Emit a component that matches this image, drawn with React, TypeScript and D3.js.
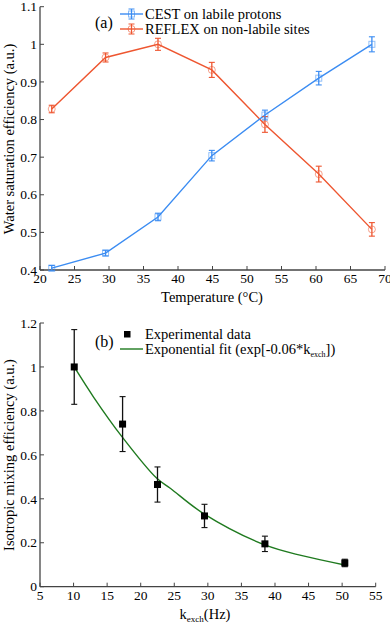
import React from 'react';
import * as d3 from 'd3';

// panel (a): temperature series
const temps = [21.7, 29.5, 37.1, 44.9, 52.6, 60.4, 68.1];
const cestVals = [0.405, 0.445, 0.541, 0.704, 0.812, 0.91, 1.0];
const cestErr = [0.007, 0.0075, 0.01, 0.014, 0.013, 0.018, 0.02];
const reflexVals = [0.828, 0.965, 1.0, 0.932, 0.787, 0.655, 0.508];
const reflexErr = [0.01, 0.012, 0.016, 0.02, 0.021, 0.021, 0.018];
const tempTicks = [20, 25, 30, 35, 40, 45, 50, 55, 60, 65, 70];
const effTicks = [0.4, 0.5, 0.6, 0.7, 0.8, 0.9, 1.0, 1.1];

// panel (b): exchange rate series
const kexch = [10.1, 17.3, 22.5, 29.5, 38.5, 50.4];
const mixVals = [1.0, 0.74, 0.465, 0.322, 0.195, 0.108];
const mixErr = [0.17, 0.125, 0.08, 0.053, 0.035, 0.017];
// fit curve
const fitK = [10.1, 13, 17.2, 22.4, 24.4, 29.3, 38.5, 44.2, 50.4];
const fitVals = [1.0, 0.862, 0.683, 0.493, 0.448, 0.334, 0.19, 0.14, 0.099];
const kTicks = [5, 10, 15, 20, 25, 30, 35, 40, 45, 50, 55];
const mixTicks = [0, 0.2, 0.4, 0.6, 0.8, 1.0, 1.2];

const BLUE = '#3b8cf2';
const RED = '#ee5630';
const GREEN = '#1f7a1f';
const AXIS = '#444';
const FONT = 'Liberation Serif';

const fmt = (d: number) => String(+d.toFixed(1));

const Axes = ({ x, y, xTicks, yTicks }) => {
  const [x0, x1] = x.range();
  const [y0, y1] = y.range();
  return (
    <g>
      <line x1={x0} x2={x0} y1={y0} y2={y1} stroke={AXIS} strokeWidth={1.3} />
      <line x1={x0} x2={x1} y1={y0} y2={y0} stroke={AXIS} strokeWidth={1.3} />
      {xTicks.map((t) => (
        <g key={'x' + t}>
          <line x1={x(t)} x2={x(t)} y1={y0} y2={y0 - 4} stroke={AXIS} />
          <text x={x(t)} y={y0 + 13} textAnchor="middle" fontFamily={FONT} fontSize={13.5}>{fmt(t)}</text>
        </g>
      ))}
      {yTicks.map((t) => (
        <g key={'y' + t}>
          <line x1={x0} x2={x0 + 4} y1={y(t)} y2={y(t)} stroke={AXIS} />
          <text x={x0 - 3} y={y(t)} dy="0.35em" textAnchor="end" fontFamily={FONT} fontSize={13.5}>{fmt(t)}</text>
        </g>
      ))}
    </g>
  );
};

const ErrBars = ({ xs, ys, es, x, y, color, cap }) => (
  <g>
    {xs.map((xv, i) => {
      const cx = x(xv);
      const lo = y(ys[i] - es[i]);
      const hi = y(ys[i] + es[i]);
      return (
        <g key={i}>
          <line x1={cx} x2={cx} y1={lo} y2={hi} stroke={color} strokeWidth={1.3} />
          <line x1={cx - cap} x2={cx + cap} y1={lo} y2={lo} stroke={color} strokeWidth={1.1} />
          <line x1={cx - cap} x2={cx + cap} y1={hi} y2={hi} stroke={color} strokeWidth={1.1} />
        </g>
      );
    })}
  </g>
);

const App = () => {
  // panel (a)
  const xa = d3.scaleLinear().domain([20, 70]).range([40, 385]);
  const ya = d3.scaleLinear().domain([0.4, 1.1]).range([270, 6.7]);
  const lineA = d3.line<number>().x((_, i) => xa(temps[i])).y((d) => ya(d));

  // panel (b)
  const xb = d3.scaleLinear().domain([5, 55]).range([40, 375.7]);
  const yb = d3.scaleLinear().domain([0, 1.2]).range([586.7, 323]);
  const fitLine = d3.line<number>().x((_, i) => xb(fitK[i])).y((d) => yb(d)).curve(d3.curveCatmullRom);

  const legendA = [
    { c: BLUE, label: 'CEST on labile protons', y: 14, sq: true },
    { c: RED, label: 'REFLEX on non-labile sites', y: 29, sq: false },
  ];

  return (
    <svg width={390} height={626} style={{ position: 'absolute', left: 0, top: 0, background: '#fff' }}
      fontFamily={FONT}>
      <Axes x={xa} y={ya} xTicks={tempTicks} yTicks={effTicks} />
      <path d={lineA(reflexVals)} fill="none" stroke={RED} strokeWidth={1.4} />
      <path d={lineA(cestVals)} fill="none" stroke={BLUE} strokeWidth={1.4} />
      <ErrBars xs={temps} ys={reflexVals} es={reflexErr} x={xa} y={ya} color={RED} cap={3} />
      <ErrBars xs={temps} ys={cestVals} es={cestErr} x={xa} y={ya} color={BLUE} cap={3} />
      {temps.map((t, i) => (
        <g key={t}>
          <circle cx={xa(t)} cy={ya(reflexVals[i])} r={3.5} fill="none" stroke={RED} strokeOpacity={0.55} />
          <rect x={xa(t) - 3} y={ya(cestVals[i]) - 3} width={6} height={6} fill="none" stroke={BLUE} strokeOpacity={0.55} />
        </g>
      ))}

      <text x={95} y={28} fontFamily={FONT} fontSize={16}>(a)</text>
      {legendA.map((d) => (
        <g key={d.label}>
          <line x1={120} x2={143} y1={d.y} y2={d.y} stroke={d.c} strokeWidth={1.4} />
          <line x1={131.5} x2={131.5} y1={d.y - 5} y2={d.y + 5} stroke={d.c} strokeWidth={1.2} />
          <line x1={128.5} x2={134.5} y1={d.y - 5} y2={d.y - 5} stroke={d.c} />
          <line x1={128.5} x2={134.5} y1={d.y + 5} y2={d.y + 5} stroke={d.c} />
          {d.sq
            ? <rect x={128.5} y={d.y - 3} width={6} height={6} fill="none" stroke={d.c} strokeOpacity={0.6} />
            : <circle cx={131.5} cy={d.y} r={3.5} fill="none" stroke={d.c} strokeOpacity={0.6} />}
          <text x={145} y={d.y} dy="0.35em" fontFamily={FONT} fontSize={14.5}>{d.label}</text>
        </g>
      ))}
      <text x={212} y={297} dy="0.35em" textAnchor="middle" fontFamily={FONT} fontSize={14.5}>Temperature (°C)</text>
      <text transform="translate(9,139) rotate(-90)" dy="0.35em" textAnchor="middle" fontFamily={FONT} fontSize={14.5}>
        Water saturation efficiency (a.u.)
      </text>

      <Axes x={xb} y={yb} xTicks={kTicks} yTicks={mixTicks} />
      <path d={fitLine(fitVals)} fill="none" stroke={GREEN} strokeWidth={1.4} />
      <ErrBars xs={kexch} ys={mixVals} es={mixErr} x={xb} y={yb} color="#111" cap={3} />
      {kexch.map((k, i) => (
        <rect key={k} x={xb(k) - 3.5} y={yb(mixVals[i]) - 3.5} width={7} height={7} fill="#000" />
      ))}

      <text x={95} y={347} fontFamily={FONT} fontSize={16}>(b)</text>
      <rect x={124} y={331} width={6.5} height={6.5} fill="#000" />
      <text x={145} y={338.5} fontFamily={FONT} fontSize={14.5}>Experimental data</text>
      <line x1={120} x2={143} y1={349} y2={349} stroke={GREEN} strokeWidth={1.4} />
      <text x={145} y={353.5} fontFamily={FONT} fontSize={14.5}>
        <tspan>Exponential fit (exp[-0.06*k</tspan>
        <tspan dy={3} fontSize={8}>exch</tspan>
        <tspan dy={-3}>])</tspan>
      </text>

      <text x={205} y={619} textAnchor="middle" fontFamily={FONT} fontSize={14.5}>
        <tspan>k</tspan>
        <tspan dy={3} fontSize={9}>exch</tspan>
        <tspan dy={-3}>(Hz)</tspan>
      </text>
      <text transform="translate(9,455) rotate(-90)" dy="0.35em" textAnchor="middle" fontFamily={FONT} fontSize={14.5}>
        Isotropic mixing efficiency (a.u.)
      </text>
    </svg>
  );
};

export default App;
